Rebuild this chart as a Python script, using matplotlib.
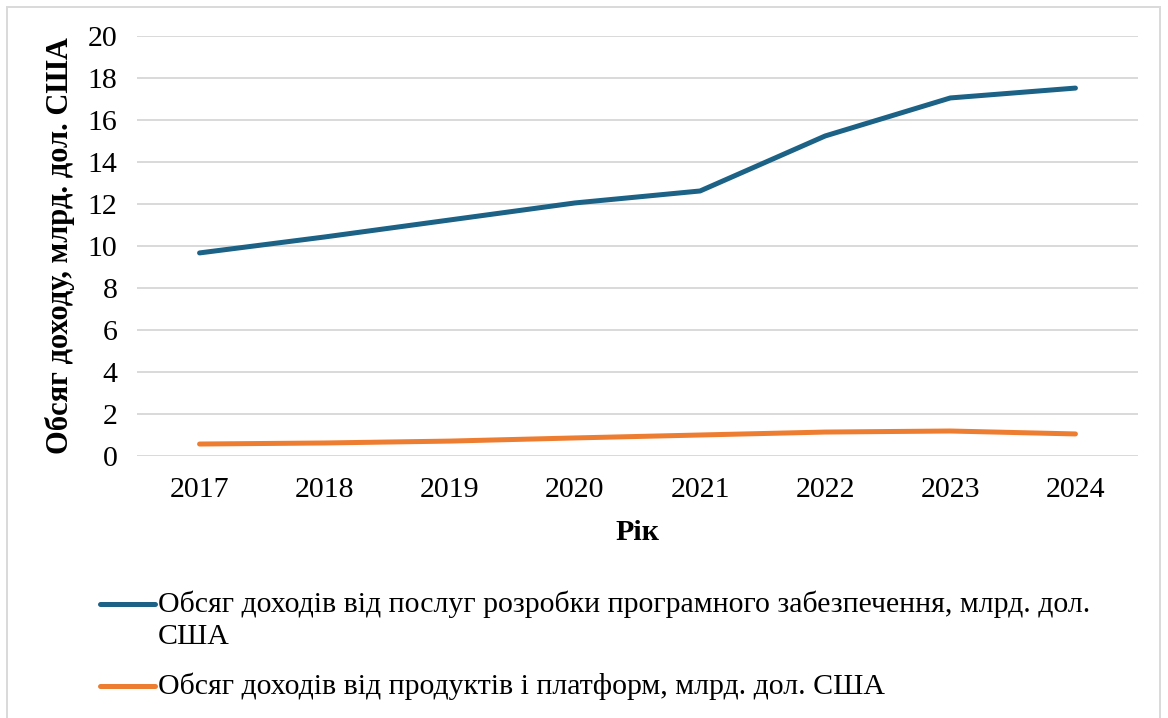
import matplotlib.pyplot as plt
from matplotlib.lines import Line2D
from matplotlib.patches import Rectangle

# --- Data ---
years = ["2017", "2018", "2019", "2020", "2021", "2022", "2023", "2024"]
services = [9.67, 10.43, 11.24, 12.05, 12.62, 15.24, 17.05, 17.52]
products = [0.57, 0.62, 0.71, 0.86, 1.00, 1.14, 1.19, 1.05]
series_labels = [
    "Обсяг доходів від послуг розробки програмного забезпечення, млрд. дол.\nСША",
    "Обсяг доходів від продуктів і платформ, млрд. дол. США",
]
colors = ["#1B6286", "#ED7D31"]

plt.rcParams['font.family'] = ['Liberation Serif', 'DejaVu Serif']

fig = plt.figure(figsize=(11.68, 7.18), dpi=100)
ax = fig.add_axes([137 / 1168, 1 - 456 / 718, (1138 - 137) / 1168, (456 - 36) / 718])

x = range(len(years))
ax.plot(x, services, color=colors[0], lw=3.6, solid_capstyle='round', zorder=3)
ax.plot(x, products, color=colors[1], lw=3.6, solid_capstyle='round', zorder=3)

ax.set_xlim(-0.5, len(years) - 0.5)
ax.set_ylim(0, 20)
ax.set_yticks(range(0, 21, 2))
ax.set_xticks(list(x))
ax.set_xticklabels(years)
ax.tick_params(axis='both', length=0, labelsize=21.5)
ax.tick_params(axis='y', pad=14)
ax.tick_params(axis='x', pad=15)
ax.grid(axis='y', color='#D9D9D9', lw=1.4)
ax.set_axisbelow(True)
for s in ax.spines.values():
    s.set_visible(False)

ax.set_xlabel("Рік", fontsize=21.5, fontweight='bold', labelpad=12)
ax.set_ylabel("Обсяг доходу, млрд. дол. США", fontsize=22, fontweight='bold', labelpad=9)

# legend drawn below the plot, handle aligned with the first text line
leg_y = [1 - 604 / 718, 1 - 686 / 718]
for lab, col, yy in zip(series_labels, colors, leg_y):
    fig.add_artist(Line2D([100 / 1168, 155 / 1168], [yy, yy], color=col, lw=3.6,
                          solid_capstyle='round', transform=fig.transFigure))
    fig.text(158 / 1168, yy + 13 / 718, lab, fontsize=21.5, va='top', ha='left',
             linespacing=1.25, transform=fig.transFigure)

# outer chart border
fig.add_artist(Rectangle((7 / 1168, -0.01), 1153 / 1168, 1 - 7 / 718 + 0.01,
                         fill=False, ec='#D9D9D9', lw=1.4, transform=fig.transFigure))

fig.savefig("out.png", dpi=100)
